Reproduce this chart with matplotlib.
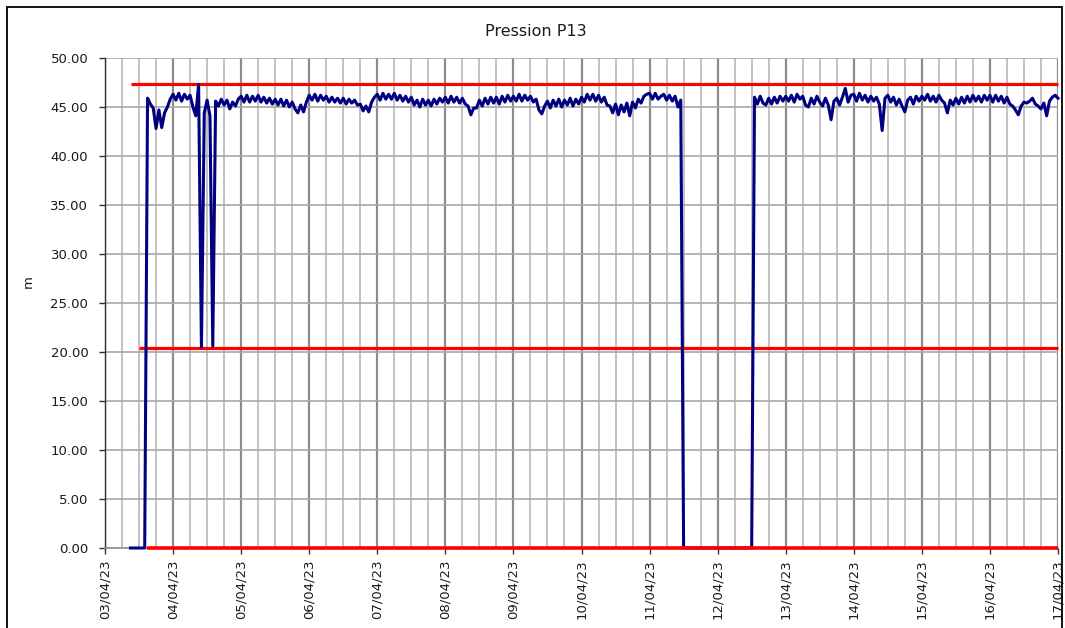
import numpy as np
import pandas as pd
import matplotlib
matplotlib.use("Agg")
import matplotlib.pyplot as plt
import matplotlib.dates as mdates
from matplotlib.ticker import MultipleLocator, FormatStrFormatter
from matplotlib.patches import Rectangle

nan = np.nan

# Hourly pressure readings at P13 (m), one list per day, hour 0..23
p13_0304 = [nan, nan, nan, nan, nan, nan, nan, nan, nan, 0.0, 0.0, 0.0,
            0.0, 0.0, 0.0, 45.9, 45.3, 44.9, 42.8, 44.7, 42.9, 44.4, 45.0, 45.8]
p13_0404 = [46.3, 45.7, 46.4, 45.6, 46.3, 45.8, 46.2, 45.0, 44.1, 47.3, 20.5, 44.4,
            45.7, 44.1, 20.6, 45.6, 45.1, 45.8, 45.2, 45.7, 44.8, 45.5, 45.1, 45.8]
p13_0504 = [46.1, 45.5, 46.2, 45.5, 46.1, 45.6, 46.2, 45.5, 46.0, 45.4, 45.9, 45.3,
            45.8, 45.2, 45.8, 45.1, 45.7, 45.0, 45.5, 44.8, 44.4, 45.2, 44.5, 45.5]
p13_0604 = [46.2, 45.7, 46.3, 45.6, 46.2, 45.7, 46.1, 45.5, 46.0, 45.5, 45.9, 45.4,
            45.9, 45.3, 45.8, 45.4, 45.7, 45.2, 45.3, 44.6, 45.1, 44.5, 45.5, 46.0]
p13_0704 = [46.3, 45.7, 46.4, 45.8, 46.3, 45.8, 46.4, 45.7, 46.2, 45.6, 46.1, 45.5,
            46.0, 45.2, 45.7, 45.0, 45.8, 45.2, 45.7, 45.1, 45.8, 45.3, 45.9, 45.5]
p13_0804 = [46.0, 45.4, 46.1, 45.5, 46.0, 45.4, 45.9, 45.3, 45.1, 44.2, 44.9, 44.9,
            45.7, 45.1, 45.9, 45.3, 46.0, 45.4, 46.0, 45.3, 46.1, 45.5, 46.2, 45.6]
p13_0904 = [46.1, 45.6, 46.3, 45.6, 46.2, 45.7, 46.1, 45.5, 45.8, 44.7, 44.3, 45.1,
            45.6, 44.9, 45.7, 45.1, 45.8, 45.0, 45.7, 45.2, 45.9, 45.1, 45.8, 45.3]
p13_1004 = [46.0, 45.5, 46.3, 45.7, 46.3, 45.6, 46.2, 45.5, 46.0, 45.2, 45.1, 44.4,
            45.3, 44.2, 45.2, 44.5, 45.4, 44.1, 45.5, 44.9, 45.8, 45.4, 46.1, 46.3]
p13_1104 = [46.4, 45.8, 46.4, 45.8, 46.1, 46.3, 45.7, 46.2, 45.6, 46.1, 45.0, 45.7,
            0.0, 0.0, 0.0, 0.0, 0.0, 0.0, 0.0, 0.0, 0.0, 0.0, 0.0, 0.0]
p13_1204 = [0.0, 0.0, 0.0, 0.0, 0.0, 0.0, 0.0, 0.0, 0.0, 0.0, 0.0, 0.0,
            0.0, 46.0, 45.3, 46.1, 45.4, 45.2, 45.9, 45.3, 46.0, 45.4, 46.1, 45.6]
p13_1304 = [46.1, 45.6, 46.2, 45.5, 46.3, 45.8, 46.1, 45.2, 45.0, 45.9, 45.3, 46.1,
            45.5, 45.1, 45.9, 45.2, 43.7, 45.6, 45.9, 45.2, 46.0, 46.9, 45.5, 46.2]
p13_1404 = [46.3, 45.6, 46.4, 45.7, 46.2, 45.5, 46.1, 45.6, 46.0, 45.3, 42.6, 45.9,
            46.2, 45.5, 46.0, 45.2, 45.8, 45.1, 44.5, 45.7, 46.0, 45.3, 46.1, 45.6]
p13_1504 = [46.1, 45.7, 46.3, 45.6, 46.1, 45.5, 46.2, 45.7, 45.4, 44.4, 45.7, 45.2,
            45.9, 45.3, 46.0, 45.4, 46.1, 45.5, 46.2, 45.6, 46.1, 45.5, 46.2, 45.7]
p13_1604 = [46.2, 45.5, 46.2, 45.6, 46.1, 45.4, 46.0, 45.3, 45.1, 44.7, 44.2, 45.1,
            45.5, 45.4, 45.6, 45.9, 45.3, 45.1, 44.8, 45.4, 44.1, 45.6, 46.0, 46.2]
p13_1704 = [45.9]

# Alarm thresholds (m) and the time each one starts being shown
threshold_levels = [47.3, 20.4, 0.0]
threshold_starts = ["2023-04-03 09:00", "2023-04-03 12:00", "2023-04-03 14:45"]

chart_title = "Pression P13"
y_label = "m"
x_start, x_end = "2023-04-03", "2023-04-17"

values = np.concatenate([p13_0304, p13_0404, p13_0504, p13_0604, p13_0704,
                         p13_0804, p13_0904, p13_1004, p13_1104, p13_1204,
                         p13_1304, p13_1404, p13_1504, p13_1604, p13_1704])
times = pd.date_range("2023-04-03 00:00", periods=len(values), freq="h")

W, H = 1065, 628
fig = plt.figure(figsize=(W / 100, H / 100), dpi=100)
ax = fig.add_axes([105 / W, 80 / H, 953 / W, 490 / H])

ax.plot(times, values, color="#000080", lw=2.2, zorder=4,
        solid_joinstyle="round", clip_on=False)

end = pd.Timestamp(x_end)
for level, start in zip(threshold_levels, threshold_starts):
    on_floor = level == 0.0
    ax.hlines(level, pd.Timestamp(start), end, colors="#ff0000",
              lw=2.6 if on_floor else 2.3, zorder=5 if on_floor else 3,
              clip_on=False)

ax.set_xlim(pd.Timestamp(x_start), end)
ax.set_ylim(0, 50)

ax.xaxis.set_major_locator(mdates.DayLocator())
ax.xaxis.set_major_formatter(mdates.DateFormatter("%d/%m/%y"))
ax.xaxis.set_minor_locator(mdates.HourLocator(byhour=[6, 12, 18]))
ax.yaxis.set_major_locator(MultipleLocator(5))
ax.yaxis.set_major_formatter(FormatStrFormatter("%.2f"))

ax.set_axisbelow(True)
ax.grid(axis="x", which="major", color="#8c8c8c", lw=1.6)
ax.grid(axis="x", which="minor", color="#b8b8b8", lw=1.2)
ax.grid(axis="y", which="major", color="#a8a8a8", lw=1.2)

for s in ("top", "right"):
    ax.spines[s].set_visible(False)
ax.spines["left"].set_color("#303030")
ax.spines["left"].set_linewidth(1.0)
ax.spines["bottom"].set_color("#909090")
ax.spines["bottom"].set_linewidth(1.2)

ax.tick_params(axis="y", which="major", direction="out", length=4, width=1,
               color="#303030", labelsize=9.5, labelcolor="#1a1a1a", pad=8)
ax.tick_params(axis="x", which="major", direction="out", length=4, width=1,
               color="#303030", labelsize=9.5, labelcolor="#1a1a1a",
               labelrotation=90, pad=4)
ax.tick_params(axis="x", which="minor", length=0)

ax.set_ylabel(y_label, fontsize=9.5, color="#1a1a1a")
ax.yaxis.set_label_coords(-(105 - 35) / 953, 0.543)

fig.text(536 / W, 1 - 31 / H, chart_title, ha="center", va="center",
         fontsize=11.5, color="#1a1a1a")

fig.patches.append(Rectangle((7 / W, -0.05), (1062 - 7) / W, 1 - 7 / H + 0.05,
                             transform=fig.transFigure, fill=False,
                             edgecolor="#000000", lw=1.3))

fig.savefig("out.png", dpi=100)
